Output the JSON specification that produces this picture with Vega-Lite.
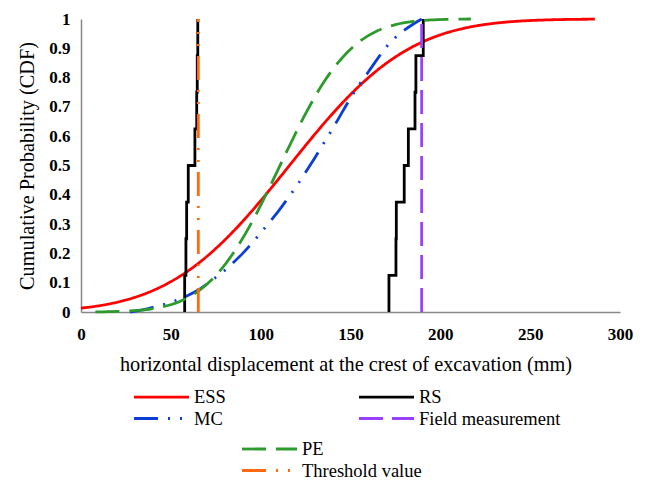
{
  "$schema": "https://vega.github.io/schema/vega-lite/v6.json",
  "width": 539,
  "height": 293,
  "autosize": {"type": "none"},
  "padding": {"left": 81, "top": 19, "right": 26, "bottom": 168},
  "config": {"view": {"stroke": null}, "font": "'Liberation Serif', 'Times New Roman', 'DejaVu Serif', serif"},
  "data": {"values": [
    {"s": "ESS", "g": "ESS", "x": 0, "y": 0.0133},
    {"s": "ESS", "g": "ESS", "x": 10, "y": 0.0213},
    {"s": "ESS", "g": "ESS", "x": 20, "y": 0.0332},
    {"s": "ESS", "g": "ESS", "x": 30, "y": 0.0501},
    {"s": "ESS", "g": "ESS", "x": 40, "y": 0.0731},
    {"s": "ESS", "g": "ESS", "x": 50, "y": 0.1035},
    {"s": "ESS", "g": "ESS", "x": 60, "y": 0.1421},
    {"s": "ESS", "g": "ESS", "x": 70, "y": 0.1895},
    {"s": "ESS", "g": "ESS", "x": 80, "y": 0.2457},
    {"s": "ESS", "g": "ESS", "x": 90, "y": 0.3096},
    {"s": "ESS", "g": "ESS", "x": 100, "y": 0.3798},
    {"s": "ESS", "g": "ESS", "x": 110, "y": 0.4543},
    {"s": "ESS", "g": "ESS", "x": 120, "y": 0.5305},
    {"s": "ESS", "g": "ESS", "x": 130, "y": 0.6056},
    {"s": "ESS", "g": "ESS", "x": 140, "y": 0.6769},
    {"s": "ESS", "g": "ESS", "x": 150, "y": 0.7422},
    {"s": "ESS", "g": "ESS", "x": 160, "y": 0.7999},
    {"s": "ESS", "g": "ESS", "x": 170, "y": 0.8492},
    {"s": "ESS", "g": "ESS", "x": 180, "y": 0.8895},
    {"s": "ESS", "g": "ESS", "x": 190, "y": 0.9215},
    {"s": "ESS", "g": "ESS", "x": 200, "y": 0.9459},
    {"s": "ESS", "g": "ESS", "x": 210, "y": 0.9638},
    {"s": "ESS", "g": "ESS", "x": 220, "y": 0.9766},
    {"s": "ESS", "g": "ESS", "x": 230, "y": 0.9854},
    {"s": "ESS", "g": "ESS", "x": 240, "y": 0.9911},
    {"s": "ESS", "g": "ESS", "x": 250, "y": 0.9948},
    {"s": "ESS", "g": "ESS", "x": 260, "y": 0.997},
    {"s": "ESS", "g": "ESS", "x": 270, "y": 0.9984},
    {"s": "ESS", "g": "ESS", "x": 286, "y": 0.9994},
    {"s": "MC", "g": "MC", "x": 27.3, "y": 0},
    {"s": "MC", "g": "MC", "x": 35, "y": 0.008},
    {"s": "MC", "g": "MC", "x": 40, "y": 0.016},
    {"s": "MC", "g": "MC", "x": 45, "y": 0.024},
    {"s": "MC", "g": "MC", "x": 50, "y": 0.033},
    {"s": "MC", "g": "MC", "x": 55, "y": 0.045},
    {"s": "MC", "g": "MC", "x": 60, "y": 0.058},
    {"s": "MC", "g": "MC", "x": 65, "y": 0.074},
    {"s": "MC", "g": "MC", "x": 70, "y": 0.095},
    {"s": "MC", "g": "MC", "x": 75, "y": 0.118},
    {"s": "MC", "g": "MC", "x": 80, "y": 0.142},
    {"s": "MC", "g": "MC", "x": 85, "y": 0.17},
    {"s": "MC", "g": "MC", "x": 90, "y": 0.2},
    {"s": "MC", "g": "MC", "x": 95, "y": 0.234},
    {"s": "MC", "g": "MC", "x": 100, "y": 0.27},
    {"s": "MC", "g": "MC", "x": 105, "y": 0.307},
    {"s": "MC", "g": "MC", "x": 110, "y": 0.345},
    {"s": "MC", "g": "MC", "x": 115, "y": 0.387},
    {"s": "MC", "g": "MC", "x": 120, "y": 0.43},
    {"s": "MC", "g": "MC", "x": 125, "y": 0.477},
    {"s": "MC", "g": "MC", "x": 130, "y": 0.525},
    {"s": "MC", "g": "MC", "x": 135, "y": 0.575},
    {"s": "MC", "g": "MC", "x": 140, "y": 0.625},
    {"s": "MC", "g": "MC", "x": 145, "y": 0.678},
    {"s": "MC", "g": "MC", "x": 150, "y": 0.73},
    {"s": "MC", "g": "MC", "x": 155, "y": 0.777},
    {"s": "MC", "g": "MC", "x": 160, "y": 0.82},
    {"s": "MC", "g": "MC", "x": 165, "y": 0.864},
    {"s": "MC", "g": "MC", "x": 170, "y": 0.905},
    {"s": "MC", "g": "MC", "x": 175, "y": 0.937},
    {"s": "MC", "g": "MC", "x": 180, "y": 0.962},
    {"s": "MC", "g": "MC", "x": 185, "y": 0.983},
    {"s": "MC", "g": "MC", "x": 189.6, "y": 1.0},
    {"s": "RS", "g": "RS1", "i": 0, "x": 57.7, "y": 0},
    {"s": "RS", "g": "RS1", "i": 1, "x": 57.7, "y": 0.125},
    {"s": "RS", "g": "RS1", "i": 2, "x": 58.4, "y": 0.25},
    {"s": "RS", "g": "RS1", "i": 3, "x": 58.8, "y": 0.375},
    {"s": "RS", "g": "RS1", "i": 4, "x": 59.7, "y": 0.5},
    {"s": "RS", "g": "RS1", "i": 5, "x": 63.4, "y": 0.625},
    {"s": "RS", "g": "RS1", "i": 6, "x": 64.4, "y": 0.75},
    {"s": "RS", "g": "RS1", "i": 7, "x": 64.7, "y": 0.875},
    {"s": "RS", "g": "RS1", "i": 8, "x": 65.0, "y": 1.0},
    {"s": "RS", "g": "RS2", "i": 0, "x": 171.4, "y": 0},
    {"s": "RS", "g": "RS2", "i": 1, "x": 171.4, "y": 0.125},
    {"s": "RS", "g": "RS2", "i": 2, "x": 175.3, "y": 0.25},
    {"s": "RS", "g": "RS2", "i": 3, "x": 175.5, "y": 0.375},
    {"s": "RS", "g": "RS2", "i": 4, "x": 179.9, "y": 0.5},
    {"s": "RS", "g": "RS2", "i": 5, "x": 182.2, "y": 0.625},
    {"s": "RS", "g": "RS2", "i": 6, "x": 185.9, "y": 0.75},
    {"s": "RS", "g": "RS2", "i": 7, "x": 186.4, "y": 0.875},
    {"s": "RS", "g": "RS2", "i": 8, "x": 190.5, "y": 1.0},
    {"s": "Field measurement", "g": "F", "x": 189.6, "y": 0},
    {"s": "Field measurement", "g": "F", "x": 189.6, "y": 1},
    {"s": "PE", "g": "PE", "x": 8, "y": 0.0005},
    {"s": "PE", "g": "PE", "x": 15, "y": 0.001},
    {"s": "PE", "g": "PE", "x": 25, "y": 0.003},
    {"s": "PE", "g": "PE", "x": 35, "y": 0.007},
    {"s": "PE", "g": "PE", "x": 45, "y": 0.017},
    {"s": "PE", "g": "PE", "x": 55, "y": 0.036},
    {"s": "PE", "g": "PE", "x": 65, "y": 0.07},
    {"s": "PE", "g": "PE", "x": 75, "y": 0.124},
    {"s": "PE", "g": "PE", "x": 85, "y": 0.203},
    {"s": "PE", "g": "PE", "x": 95, "y": 0.305},
    {"s": "PE", "g": "PE", "x": 105, "y": 0.426},
    {"s": "PE", "g": "PE", "x": 115, "y": 0.554},
    {"s": "PE", "g": "PE", "x": 125, "y": 0.677},
    {"s": "PE", "g": "PE", "x": 135, "y": 0.783},
    {"s": "PE", "g": "PE", "x": 145, "y": 0.865},
    {"s": "PE", "g": "PE", "x": 155, "y": 0.923},
    {"s": "PE", "g": "PE", "x": 165, "y": 0.96},
    {"s": "PE", "g": "PE", "x": 175, "y": 0.981},
    {"s": "PE", "g": "PE", "x": 185, "y": 0.992},
    {"s": "PE", "g": "PE", "x": 195, "y": 0.997},
    {"s": "PE", "g": "PE", "x": 205, "y": 0.999},
    {"s": "PE", "g": "PE", "x": 217, "y": 1.0},
    {"s": "Threshold value", "g": "T", "x": 65.3, "y": 0},
    {"s": "Threshold value", "g": "T", "x": 65.3, "y": 1}
  ]},
  "encoding": {
    "x": {
      "field": "x", "type": "quantitative",
      "scale": {"domain": [0, 300], "nice": false, "zero": false},
      "axis": {
        "values": [0, 50, 100, 150, 200, 250, 300],
        "title": "horizontal displacement at the crest of excavation (mm)",
        "grid": false, "ticks": false, "tickSize": 0,
        "domainColor": "#888888", "domainWidth": 1.5,
        "labelFont": "'Liberation Serif', 'Times New Roman', serif", "labelFontWeight": "bold", "labelFontSize": 17, "labelColor": "#000000",
        "labelPadding": 14, "labelFlush": false, "labelOverlap": false,
        "titleFont": "'Liberation Serif', 'Times New Roman', serif", "titleFontWeight": "normal", "titleFontSize": 20.3, "titleColor": "#000000",
        "titleBaseline": "alphabetic", "titleAlign": "center", "titleX": 264.5, "titleY": 58.5
      }
    },
    "y": {
      "field": "y", "type": "quantitative",
      "scale": {"domain": [0, 1], "nice": false},
      "axis": {
        "values": [0, 0.1, 0.2, 0.3, 0.4, 0.5, 0.6, 0.7, 0.8, 0.9, 1],
        "format": "~g",
        "title": "Cumulative Probability (CDF)",
        "grid": false, "ticks": false, "tickSize": 0,
        "domainColor": "#888888", "domainWidth": 1.5,
        "labelFont": "'Liberation Serif', 'Times New Roman', serif", "labelFontWeight": "bold", "labelFontSize": 17, "labelColor": "#000000",
        "labelPadding": 11, "labelOverlap": false,
        "titleFont": "'Liberation Serif', 'Times New Roman', serif", "titleFontWeight": "normal", "titleFontSize": 20.3, "titleColor": "#000000",
        "titleBaseline": "alphabetic", "titleX": -48
      }
    }
  },
  "layer": [
    {
      "layer": [
        {
          "transform": [{"filter": "datum.s === 'ESS' || datum.s === 'MC'"}],
          "mark": {"type": "line", "interpolate": "monotone", "strokeWidth": 2.8},
          "encoding": {
            "detail": {"field": "g"},
            "color": {"field": "s", "type": "nominal",
              "scale": {"domain": ["ESS", "MC", "RS", "Field measurement"], "range": ["#ff0000", "#0a3ed6", "#000000", "#9b40ff"]},
              "legend": {"title": null, "orient": "none", "legendX": 53, "legendY": 368.75, "columns": 2, "columnPadding": 127, "rowPadding": 2.5, "padding": 0,
                "symbolType": "M-5.5,0H5.5", "symbolSize": 100, "symbolStrokeWidth": 2.8, "symbolOffset": 18.25, "labelOffset": 23.25,
                "labelFont": "'Liberation Serif', 'Times New Roman', serif", "labelFontSize": 18.5, "labelColor": "#000000", "symbolFillColor": "transparent"}},
            "strokeDash": {"field": "s", "type": "nominal",
              "scale": {"domain": ["ESS", "MC", "RS", "Field measurement"], "range": [[1, 0], [24, 10, 2, 10, 2, 10], [1, 0], [24, 9]]},
              "legend": {"title": null, "orient": "none", "legendX": 53, "legendY": 368.75, "columns": 2, "columnPadding": 127, "rowPadding": 2.5, "padding": 0,
                "symbolType": "M-5.5,0H5.5", "symbolSize": 100, "symbolStrokeWidth": 2.8, "symbolOffset": 18.25, "labelOffset": 23.25,
                "labelFont": "'Liberation Serif', 'Times New Roman', serif", "labelFontSize": 18.5, "labelColor": "#000000", "symbolFillColor": "transparent"}}
          }
        },
        {
          "transform": [{"filter": "datum.s === 'RS'"}],
          "mark": {"type": "line", "interpolate": "step-after", "strokeWidth": 2.8},
          "encoding": {
            "detail": {"field": "g"},
            "order": {"field": "i", "type": "quantitative"},
            "color": {"field": "s", "type": "nominal",
              "scale": {"domain": ["ESS", "MC", "RS", "Field measurement"], "range": ["#ff0000", "#0a3ed6", "#000000", "#9b40ff"]}},
            "strokeDash": {"field": "s", "type": "nominal",
              "scale": {"domain": ["ESS", "MC", "RS", "Field measurement"], "range": [[1, 0], [24, 10, 2, 10, 2, 10], [1, 0], [24, 9]]}}
          }
        },
        {
          "transform": [{"filter": "datum.s === 'Field measurement'"}],
          "mark": {"type": "line", "strokeWidth": 2.8},
          "encoding": {
            "detail": {"field": "g"},
            "color": {"field": "s", "type": "nominal",
              "scale": {"domain": ["ESS", "MC", "RS", "Field measurement"], "range": ["#ff0000", "#0a3ed6", "#000000", "#9b40ff"]}},
            "strokeDash": {"field": "s", "type": "nominal",
              "scale": {"domain": ["ESS", "MC", "RS", "Field measurement"], "range": [[1, 0], [24, 10, 2, 10, 2, 10], [1, 0], [24, 9]]}}
          }
        }
      ]
    },
    {
      "layer": [
        {
          "transform": [{"filter": "datum.s === 'PE'"}],
          "mark": {"type": "line", "interpolate": "monotone", "strokeWidth": 2.8},
          "encoding": {
            "detail": {"field": "g"},
            "color": {"field": "s", "type": "nominal",
              "scale": {"domain": ["PE", "Threshold value"], "range": ["#2d9a2d", "#ff6a10"]},
              "legend": {"title": null, "orient": "none", "legendX": 161, "legendY": 420.75, "direction": "vertical", "rowPadding": 2.5, "padding": 0,
                "symbolType": "M-5.5,0H5.5", "symbolSize": 100, "symbolStrokeWidth": 2.8, "symbolOffset": 18.25, "labelOffset": 23.25,
                "labelFont": "'Liberation Serif', 'Times New Roman', serif", "labelFontSize": 18.5, "labelColor": "#000000", "symbolFillColor": "transparent"}},
            "strokeDash": {"field": "s", "type": "nominal",
              "scale": {"domain": ["PE", "Threshold value"], "range": [[24, 10], [24, 10, 2, 10, 2, 10]]},
              "legend": {"title": null, "orient": "none", "legendX": 161, "legendY": 420.75, "direction": "vertical", "rowPadding": 2.5, "padding": 0,
                "symbolType": "M-5.5,0H5.5", "symbolSize": 100, "symbolStrokeWidth": 2.8, "symbolOffset": 18.25, "labelOffset": 23.25,
                "labelFont": "'Liberation Serif', 'Times New Roman', serif", "labelFontSize": 18.5, "labelColor": "#000000", "symbolFillColor": "transparent"}}
          }
        },
        {
          "transform": [{"filter": "datum.s === 'Threshold value'"}],
          "mark": {"type": "line", "strokeWidth": 2.8},
          "encoding": {
            "detail": {"field": "g"},
            "color": {"field": "s", "type": "nominal",
              "scale": {"domain": ["PE", "Threshold value"], "range": ["#2d9a2d", "#ff6a10"]}},
            "strokeDash": {"field": "s", "type": "nominal",
              "scale": {"domain": ["PE", "Threshold value"], "range": [[24, 10], [24, 10, 2, 10, 2, 10]]}}
          }
        }
      ]
    }
  ],
  "resolve": {"scale": {"color": "independent", "strokeDash": "independent"}}
}
